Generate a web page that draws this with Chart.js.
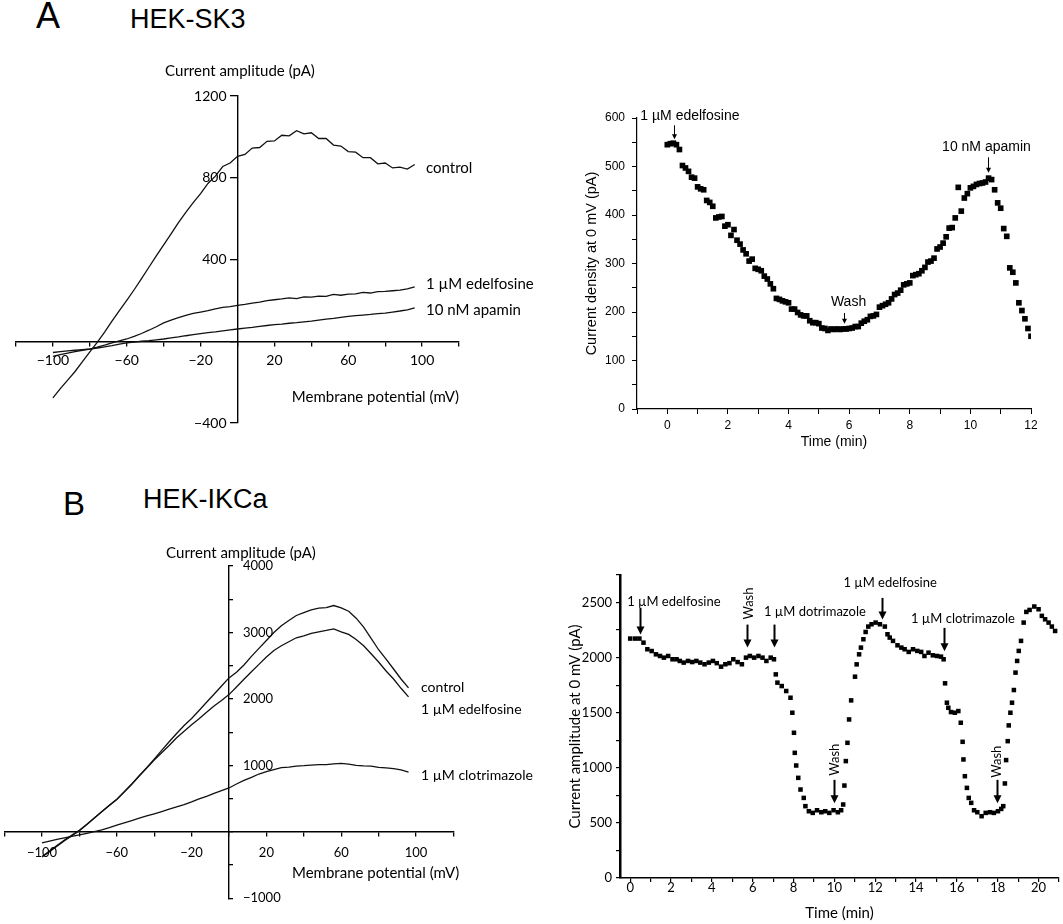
<!DOCTYPE html>
<html>
<head>
<meta charset="utf-8">
<script src="https://cdn.jsdelivr.net/npm/chart.js@4.4.0/dist/chart.umd.min.js"></script>
<style>
  html, body { margin: 0; padding: 0; background: #fff; }
  body { width: 1063px; height: 924px; position: relative; overflow: hidden; }
  canvas { position: absolute; }
  .t { position: absolute; white-space: nowrap; line-height: 1; color: #000; }
  .arial { font-family: "Liberation Sans", Arial, sans-serif; }
  .lato { font-family: Lato, sans-serif; }
  .l { transform: translateY(-50%); }
  .c { transform: translate(-50%, -50%); }
  .r { transform: translate(-100%, -50%); }
</style>
</head>
<body>

<div class="t arial l" style="left:36px;top:16px;font-size:36px">A</div>
<div class="t arial l" style="left:130px;top:19px;font-size:27px">HEK-SK3</div>
<div class="t arial l" style="left:63px;top:503px;font-size:33px">B</div>
<div class="t arial l" style="left:143px;top:499px;font-size:27px">HEK-IKCa</div>

<canvas id="ivA" width="520" height="420" style="left:0;top:40px"></canvas>
<canvas id="tcA" width="523" height="380" style="left:540px;top:80px"></canvas>
<canvas id="ivB" width="520" height="404" style="left:0;top:520px"></canvas>
<canvas id="tcB" width="523" height="364" style="left:540px;top:560px"></canvas>

<!-- IV panel A text -->
<div class="t lato c" style="left:240px;top:70px;font-size:15px">Current amplitude (pA)</div>
<div class="t lato r" style="left:459px;top:396px;font-size:15px">Membrane potential (mV)</div>
<div class="t lato l" style="left:426px;top:167px;font-size:15px">control</div>
<div class="t lato l" style="left:426px;top:283px;font-size:15px">1 µM edelfosine</div>
<div class="t lato l" style="left:426px;top:309px;font-size:15px">10 nM apamin</div>

<!-- IV panel B text -->
<div class="t lato c" style="left:241px;top:552px;font-size:15px">Current amplitude (pA)</div>
<div class="t lato l" style="left:292px;top:872px;font-size:15px">Membrane potential (mV)</div>
<div class="t lato l" style="left:421px;top:687px;font-size:14px">control</div>
<div class="t lato l" style="left:421px;top:709px;font-size:14px">1 µM edelfosine</div>
<div class="t lato l" style="left:421px;top:775px;font-size:14px">1 µM clotrimazole</div>

<script>
// --- voltage ramp (mV), shared by all I-V traces ---
const V_MV = [
  -100, -96, -92, -88, -84, -80, -76, -72, -68, -64,
  -60, -56, -52, -48, -44, -40, -36, -32, -28, -24,
  -20, -16, -12, -8, -4, 0, 4, 8, 12, 16,
  20, 24, 28, 32, 36, 40, 44, 48, 52, 56,
  60, 64, 68, 72, 76, 80, 84, 88, 92, 96
];

// --- A: HEK-SK3 I-V (pA) ---
const A_CONTROL = [
  -277, -232, -190, -148, -100, -52, -5, 45, 98, 150,
  200, 252, 306, 362, 418, 472, 525, 580, 630, 678,
  722, 772, 808, 855, 872, 905, 914, 945, 948, 978,
  980, 1008, 1005, 1030, 1015, 1020, 992, 992, 960, 955,
  928, 925, 898, 898, 868, 872, 848, 852, 842, 865
];
const A_EDELFOSINE = [
  -74, -66, -58, -51, -44, -38, -29, -19, -8, 2,
  11, 24, 38, 54, 71, 90, 103, 116, 127, 136,
  143, 150, 158, 166, 169, 176, 180, 187, 191, 199,
  203, 207, 212, 209, 217, 216, 221, 220, 229, 225,
  231, 232, 239, 236, 243, 244, 247, 250, 256, 266
];
const A_APAMIN = [
  -55, -51, -47, -44, -41, -38, -33, -27, -21, -14,
  -8, -4, 0, 3, 7, 11, 16, 21, 27, 32,
  37, 42, 46, 51, 56, 60, 64, 68, 73, 77,
  81, 84, 88, 91, 95, 98, 103, 108, 112, 117,
  122, 125, 128, 131, 135, 138, 143, 148, 154, 163
];

// --- B: HEK-IKCa I-V (pA) ---
const B_CONTROL = [
  -370, -290, -205, -125, -50, 25, 115, 210, 305, 400,
  490, 605, 720, 845, 966, 1095, 1225, 1355, 1480, 1600,
  1705, 1825, 1950, 2070, 2195, 2316, 2400, 2510, 2640, 2760,
  2880, 3000, 3100, 3180, 3255, 3300, 3340, 3365, 3375, 3405,
  3370, 3320, 3215, 3080, 2910, 2740, 2600, 2450, 2300, 2165
];
const B_EDELFOSINE = [
  -380, -300, -215, -135, -60, 18, 112, 208, 302, 397,
  485, 600, 715, 840, 960, 1080, 1190, 1300, 1415, 1515,
  1610, 1700, 1800, 1895, 1975, 2065, 2180, 2295, 2410, 2520,
  2630, 2730, 2800, 2860, 2920, 2950, 2985, 3010, 3030, 3055,
  3010, 2970, 2895, 2800, 2680, 2555, 2420, 2300, 2160, 2030
];
const B_CLOTRIMAZOLE = [
  -165, -140, -115, -92, -68, -45, -22, 2, 30, 62,
  100, 135, 170, 205, 240, 272, 305, 340, 375, 410,
  450, 495, 535, 580, 620, 660, 720, 775, 820, 870,
  905, 935, 965, 975, 988, 995, 1005, 1012, 1010, 1022,
  1030, 1018, 1000, 992, 990, 970, 962, 950, 932, 900
];

const IV_X_TICKS = [-100, -60, -20, 20, 60, 100];
const IV_A_Y_TICKS = [1200, 800, 400, -400];
const IV_B_Y_TICKS = [4000, 3000, 2000, 1000, -1000];

// --- A: time course, current density at 0 mV ---
const TC_A_TIME = [
  0, 0.1, 0.2, 0.3, 0.4, 0.5, 0.6, 0.7, 0.8, 0.9,
  1, 1.1, 1.2, 1.3, 1.4, 1.5, 1.6, 1.7, 1.8, 1.9,
  2, 2.1, 2.2, 2.3, 2.4, 2.5, 2.6, 2.7, 2.8, 2.9,
  3, 3.1, 3.2, 3.3, 3.4, 3.5, 3.6, 3.7, 3.8, 3.9,
  4, 4.1, 4.2, 4.3, 4.4, 4.5, 4.6, 4.7, 4.8, 4.9,
  5, 5.1, 5.2, 5.3, 5.4, 5.5, 5.6, 5.7, 5.8, 5.9,
  6, 6.1, 6.2, 6.3, 6.4, 6.5, 6.6, 6.7, 6.8, 6.9,
  7, 7.1, 7.2, 7.3, 7.4, 7.5, 7.6, 7.7, 7.8, 7.9,
  8, 8.1, 8.2, 8.3, 8.4, 8.5, 8.6, 8.7, 8.8, 8.9,
  9, 9.1, 9.2, 9.3, 9.4, 9.5, 9.6, 9.7, 9.8, 9.9,
  10, 10.1, 10.2, 10.3, 10.4, 10.5, 10.6, 10.7, 10.8, 10.9,
  11, 11.1, 11.2, 11.3, 11.4, 11.5, 11.6, 11.7, 11.8, 11.9,
  12
];
const TC_A_CURRENT = [
  545, 547, 548, 545, 535, 502, 497, 490, 478, 476,
  458, 454, 452, 430, 426, 418, 394, 396, 397, 377,
  380, 358, 370, 348, 340, 328, 320, 305, 309, 290,
  288, 285, 274, 268, 258, 248, 228, 226, 223, 221,
  219, 206, 206, 199, 194, 192, 192, 182, 178, 178,
  176, 167, 166, 162, 165, 164, 165, 164, 165, 165,
  166, 167, 170, 170, 177, 181, 184, 191, 192, 195,
  210, 213, 216, 219, 227, 236, 239, 245, 256, 258,
  260, 275, 277, 279, 285, 292, 303, 305, 311, 330,
  334, 342, 355, 373, 374, 394, 457, 408, 435, 444,
  456, 459, 463, 465, 466, 468, 476, 473, 452, 425,
  414, 372, 356, 291, 282, 260, 219, 203, 186, 166,
  150
];

// --- B: time course, current amplitude at 0 mV ---
const TC_B_TIME = [
  0, 0.24, 0.45, 0.65, 0.84, 1.05, 1.26, 1.46, 1.65, 1.86,
  2.07, 2.27, 2.43, 2.62, 2.83, 3.04, 3.24, 3.43, 3.64, 3.85,
  4.05, 4.24, 4.45, 4.66, 4.86, 5.05, 5.26, 5.47, 5.67, 5.86,
  6.07, 6.28, 6.48, 6.67, 6.88, 7.04, 7.13, 7.21, 7.42, 7.64,
  7.85, 7.94, 8.02, 8.06, 8.13, 8.23, 8.34, 8.5, 8.58, 8.75,
  8.94, 9.15, 9.36, 9.55, 9.75, 9.96, 10.17, 10.33, 10.43, 10.49,
  10.56, 10.64, 10.72, 10.82, 11.01, 11.09, 11.21, 11.3, 11.42, 11.53,
  11.66, 11.82, 12.02, 12.23, 12.47, 12.6, 12.71, 12.87, 13.09, 13.28,
  13.44, 13.64, 13.85, 14.06, 14.25, 14.41, 14.61, 14.82, 15.03, 15.22,
  15.35, 15.42, 15.51, 15.58, 15.71, 15.9, 16.07, 16.19, 16.28, 16.32,
  16.39, 16.49, 16.58, 16.7, 16.84, 17, 17.21, 17.41, 17.62, 17.81,
  18.01, 18.17, 18.27, 18.35, 18.41, 18.49, 18.54, 18.62, 18.7, 18.79,
  18.87, 18.95, 19.03, 19.14, 19.27, 19.4, 19.56, 19.79, 20, 20.16,
  20.32, 20.49, 20.65, 20.81
];
const TC_B_CURRENT = [
  2173, 2173, 2173, 2136, 2076, 2060, 2030, 2015, 2000, 2015,
  1985, 1985, 1970, 1955, 1970, 1960, 1970, 1955, 1940, 1955,
  1970, 1950, 1918, 1940, 1950, 1985, 1960, 1940, 2000, 2015,
  2000, 2015, 2000, 1970, 2000, 1985, 1848, 1773, 1742, 1697,
  1636, 1500, 1318, 1136, 1021, 909, 803, 727, 652, 606,
  591, 615, 597, 606, 591, 615, 597, 615, 667, 839,
  1061, 1227, 1439, 1612, 1827, 1939, 2030, 2091, 2167, 2233,
  2282, 2303, 2318, 2303, 2282, 2212, 2182, 2152, 2112, 2091,
  2076, 2052, 2076, 2061, 2052, 2015, 2045, 2021, 2015, 2009,
  1985, 1767, 1591, 1545, 1506, 1500, 1515, 1409, 1236, 1076,
  924, 818, 727, 682, 615, 597, 561, 591, 597, 591,
  606, 627, 652, 858, 1070, 1242, 1385, 1500, 1591, 1706,
  1864, 1970, 2061, 2152, 2318, 2415, 2433, 2464, 2439, 2379,
  2348, 2318, 2282, 2242
];

// drug application notes: arrow at time t from -> to (data units), text at tx/ty
const NOTES_A = [
  { text: '1 µM edelfosine', t: 0.21, from: 585, to: 556, tx: -0.89, ty: 603, align: 'left' },
  { text: 'Wash', t: 5.84, from: 198, to: 176, tx: 5.98, ty: 220, align: 'center' },
  { text: '10 nM apamin', t: 10.58, from: 519, to: 487, tx: 10.53, ty: 539, align: 'center' }
];
const NOTES_B = [
  { text: '1 µM edelfosine', t: 0.49, from: 2452, to: 2209, tx: -0.15, ty: 2509, align: 'left' },
  { text: 'Wash', t: 5.74, from: 2300, to: 2091, tx: 5.79, ty: 2491, rot: true },
  { text: '1 µM dotrimazole', t: 7.04, from: 2300, to: 2091, tx: 6.55, ty: 2412, align: 'left' },
  { text: '1 µM edelfosine', t: 12.33, from: 2542, to: 2345, tx: 10.44, ty: 2679, align: 'left' },
  { text: '1 µM clotrimazole', t: 15.37, from: 2270, to: 2058, tx: 13.75, ty: 2355, align: 'left' },
  { text: 'Wash', t: 10.0, from: 891, to: 679, tx: 10.0, ty: 1073, rot: true },
  { text: 'Wash', t: 17.96, from: 891, to: 679, tx: 17.93, ty: 1055, rot: true }
];

Chart.defaults.color = '#000';

const minus = v => (v < 0 ? '\u2212' + Math.abs(v) : String(v));
const pts = (xs, ys) => xs.map((x, i) => ({ x: x, y: ys[i] }));

// tick labels for the crossed I-V axes, placed off the zero lines
function ivTickText(xTicks, yTicks, o) {
  return {
    id: 'ivTickText',
    afterDraw(chart) {
      const { ctx, scales: { x, y } } = chart;
      const x0 = x.getPixelForValue(0);
      const y0 = y.getPixelForValue(0);
      ctx.save();
      ctx.fillStyle = '#000';
      ctx.font = o.size + 'px Lato';
      ctx.textBaseline = 'middle';
      ctx.textAlign = 'center';
      xTicks.forEach(v => ctx.fillText(minus(v), x.getPixelForValue(v), y0 + o.xGap));
      ctx.textAlign = o.yAlign;
      yTicks.forEach(v => ctx.fillText(minus(v), x0 + o.yGap, y.getPixelForValue(v)));
      ctx.restore();
    }
  };
}

// arrows + text for the time courses
function arrowNotes(notes, o) {
  return {
    id: 'arrowNotes',
    afterDatasetsDraw(chart) {
      const { ctx, scales: { x, y } } = chart;
      notes.forEach(n => {
        const ax = Math.round(x.getPixelForValue(n.t)) + 0.5;
        const a1 = y.getPixelForValue(n.from);
        const a2 = y.getPixelForValue(n.to);
        ctx.save();
        ctx.strokeStyle = '#000';
        ctx.fillStyle = '#000';
        ctx.lineWidth = o.lineWidth;
        ctx.beginPath();
        ctx.moveTo(ax, a1);
        ctx.lineTo(ax, a2 - o.headLen + 1);
        ctx.stroke();
        ctx.beginPath();
        ctx.moveTo(ax - o.headW, a2 - o.headLen);
        ctx.lineTo(ax + o.headW, a2 - o.headLen);
        ctx.lineTo(ax, a2);
        ctx.closePath();
        ctx.fill();

        ctx.font = o.font;
        ctx.textBaseline = 'middle';
        const tx = x.getPixelForValue(n.tx);
        const ty = y.getPixelForValue(n.ty);
        if (n.rot) {
          ctx.translate(tx, ty);
          ctx.rotate(-Math.PI / 2);
          ctx.textAlign = 'center';
          ctx.fillText(n.text, 0, 0);
        } else {
          ctx.textAlign = n.align;
          ctx.fillText(n.text, tx, ty);
        }
        ctx.restore();
      });
    }
  };
}

function ivChart(id, datasets, yMin, yMax, yStep, pad, yTickLen, labels) {
  return new Chart(document.getElementById(id), {
    type: 'scatter',
    data: {
      datasets: datasets.map(d => ({
        data: pts(V_MV, d),
        showLine: true,
        borderColor: '#111',
        borderWidth: 1.3,
        pointRadius: 0,
        tension: 0
      }))
    },
    options: {
      responsive: false,
      animation: false,
      events: [],
      layout: { padding: pad },
      plugins: { legend: { display: false }, tooltip: { enabled: false } },
      scales: {
        x: {
          type: 'linear', min: -120, max: 120,
          position: { y: 0 },
          afterFit: s => { s.height = 0; },
          ticks: { stepSize: 20, display: false },
          grid: { drawOnChartArea: false, drawTicks: true, tickLength: 4, color: '#000', lineWidth: 1.3 },
          border: { display: true, color: '#000', width: 1.4 }
        },
        y: {
          type: 'linear', min: yMin, max: yMax,
          position: { x: 0 },
          afterFit: s => { s.width = 0; },
          ticks: { stepSize: yStep, display: false },
          grid: { drawOnChartArea: false, drawTicks: true, tickLength: yTickLen, color: '#000', lineWidth: 1.3 },
          border: { display: true, color: '#000', width: 1.4 }
        }
      }
    },
    plugins: [labels]
  });
}

ivChart('ivA', [A_CONTROL, A_EDELFOSINE, A_APAMIN], -400, 1200, 400,
  { left: 16, top: 56, right: 61, bottom: 37 }, 7,
  ivTickText(IV_X_TICKS, IV_A_Y_TICKS, { size: 14, xGap: 19, yGap: -11, yAlign: 'right' }));

ivChart('ivB', [B_CONTROL, B_EDELFOSINE, B_CLOTRIMAZOLE], -1000, 4000, 500,
  { left: 4.6, top: 46, right: 66.6, bottom: 25.7 }, -5,
  ivTickText(IV_X_TICKS, IV_B_Y_TICKS, { size: 13, xGap: 21, yGap: 14, yAlign: 'left' }));

// time course A
new Chart(document.getElementById('tcA'), {
  type: 'scatter',
  data: {
    datasets: [{
      data: pts(TC_A_TIME, TC_A_CURRENT),
      pointStyle: 'rect',
      pointRadius: 4,
      backgroundColor: '#000',
      borderWidth: 0
    }]
  },
  options: {
    responsive: false,
    animation: false,
    events: [],
    layout: { padding: { left: 0, top: 38, right: 32, bottom: 0 } },
    plugins: { legend: { display: false }, tooltip: { enabled: false } },
    scales: {
      x: {
        type: 'linear', min: -1, max: 12,
        afterFit: s => { s.height = 51; },
        ticks: {
          stepSize: 1, autoSkip: false, maxRotation: 0, padding: 4,
          font: { family: 'Liberation Sans', size: 12 },
          callback: v => (v % 2 === 0 ? v : '')
        },
        grid: { drawOnChartArea: false, tickLength: 5, color: '#000', lineWidth: 1 },
        border: { color: '#000', width: 1.2 },
        title: { display: true, text: 'Time (min)', font: { family: 'Liberation Sans', size: 14 }, padding: { top: 0, bottom: 9.6 } }
      },
      y: {
        type: 'linear', min: 0, max: 600,
        afterFit: s => { s.width = 97; },
        ticks: {
          stepSize: 50, autoSkip: false, padding: 7,
          font: { family: 'Liberation Sans', size: 12 },
          callback: v => (v % 100 === 0 ? v : '')
        },
        grid: { drawOnChartArea: false, tickLength: 5, color: '#000', lineWidth: 1 },
        border: { color: '#000', width: 1.2 },
        title: { display: true, text: 'Current density at 0 mV (pA)', font: { family: 'Liberation Sans', size: 14.5 }, padding: { top: 43.3, bottom: 0 } }
      }
    }
  },
  plugins: [arrowNotes(NOTES_A, { lineWidth: 1, headLen: 5, headW: 2.5, font: '14px "Liberation Sans"' })]
});

// time course B
new Chart(document.getElementById('tcB'), {
  type: 'scatter',
  data: {
    datasets: [{
      data: pts(TC_B_TIME, TC_B_CURRENT),
      pointStyle: 'rect',
      pointRadius: 3.2,
      backgroundColor: '#000',
      borderWidth: 0
    }]
  },
  options: {
    responsive: false,
    animation: false,
    events: [],
    layout: { padding: { left: 0, top: 15, right: 0, bottom: 0 } },
    plugins: { legend: { display: false }, tooltip: { enabled: false } },
    scales: {
      x: {
        type: 'linear', min: -0.5, max: 21,
        afterFit: s => { s.height = 46; },
        ticks: {
          stepSize: 1, autoSkip: false, maxRotation: 0, padding: -2, includeBounds: false,
          font: { family: 'Lato', size: 13 },
          callback: v => (v % 2 === 0 ? v : '')
        },
        grid: { drawOnChartArea: false, tickLength: 4, color: '#000', lineWidth: 1.2 },
        border: { color: '#000', width: 1.5 },
        title: { display: true, text: 'Time (min)', font: { family: 'Lato', size: 15 }, padding: { top: 0, bottom: 2 } }
      },
      y: {
        type: 'linear', min: 0, max: 2750,
        afterFit: s => { s.width = 80; },
        ticks: {
          stepSize: 250, autoSkip: false, padding: 4,
          font: { family: 'Lato', size: 13 },
          callback: v => (v % 500 === 0 ? v : '')
        },
        grid: { drawOnChartArea: false, tickLength: 4, color: '#000', lineWidth: 1.2 },
        border: { color: '#000', width: 2.5 },
        title: { display: true, text: 'Current amplitude at 0 mV (pA)', font: { family: 'Lato', size: 15 }, padding: { top: 26, bottom: 0 } }
      }
    }
  },
  plugins: [arrowNotes(NOTES_B, { lineWidth: 2, headLen: 8, headW: 4, font: '13px Lato' })]
});
</script>
</body>
</html>
